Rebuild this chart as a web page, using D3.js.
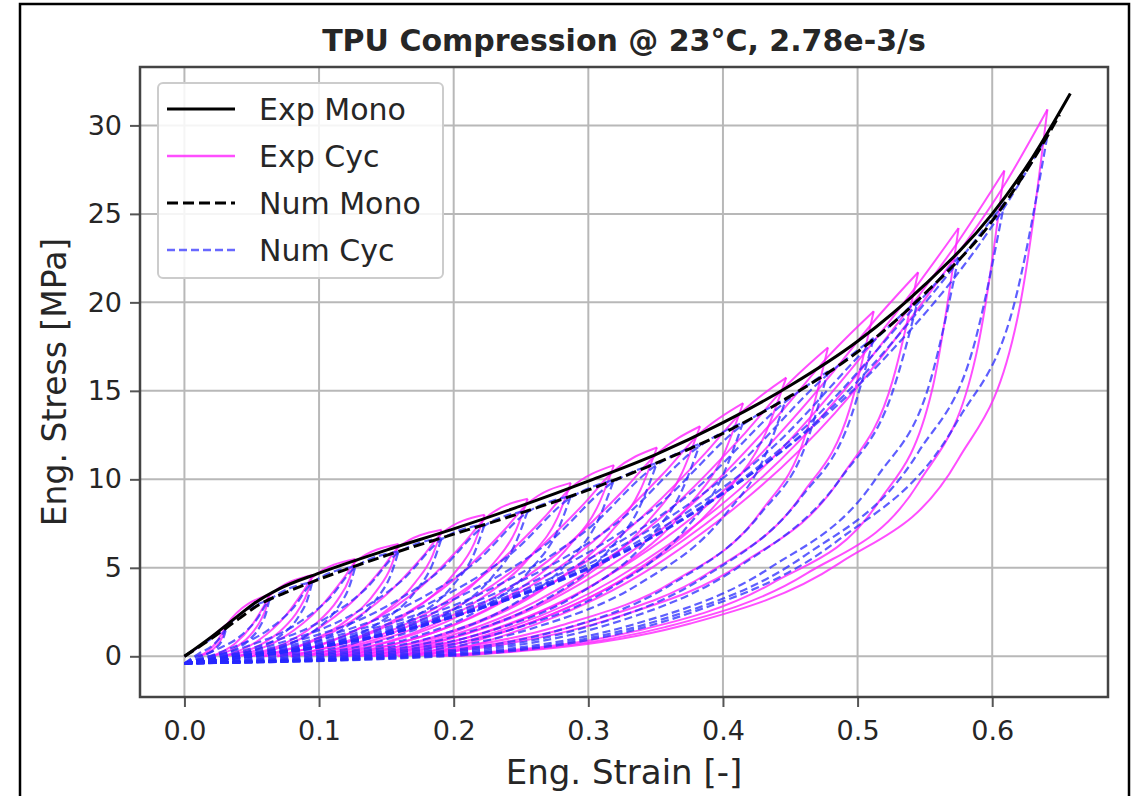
<!DOCTYPE html>
<html>
<head>
<meta charset="utf-8">
<title>TPU Compression</title>
<script src="https://d3js.org/d3.v7.min.js"></script>
<style>
  body { margin: 0; background: #fff; }
  text { font-family: "DejaVu Sans", sans-serif; fill: #262626; }
</style>
</head>
<body>
<script>
// axis ticks
var strainTicks = [0.0, 0.1, 0.2, 0.3, 0.4, 0.5, 0.6];
var stressTicks = [0, 5, 10, 15, 20, 25, 30];

// monotonic curves
var expMonoStrain = [0, 0.02, 0.04, 0.052, 0.07, 0.1, 0.15, 0.2, 0.25, 0.3, 0.35, 0.4, 0.45, 0.5, 0.55, 0.6, 0.63, 0.658];
var expMonoStress = [0, 1.1, 2.3, 3.0, 3.8, 4.7, 6.0, 7.2, 8.5, 9.9, 11.4, 13.2, 15.3, 17.8, 21.0, 25.0, 28.2, 31.8];
var numMonoStrain = [0, 0.02, 0.04, 0.055, 0.075, 0.1, 0.15, 0.2, 0.25, 0.3, 0.35, 0.4, 0.45, 0.5, 0.55, 0.6, 0.63, 0.65];
var numMonoStress = [0, 1.0, 2.1, 2.9, 3.6, 4.35, 5.7, 6.9, 8.1, 9.4, 10.9, 12.6, 14.7, 17.2, 20.5, 24.6, 28.0, 30.6];

// cyclic experiment: first loading, unloading branches, reloading branches (strain, stress)
var expCycFirstLoad = [[0, 0], [0.01, 0.5], [0.02, 1.1], [0.031, 1.8]];
var expCycUnload = [
  [[.010,0],[.0184,.23],[.0237,.58],[.0279,1.04],[.0300,1.44],[.031,1.8]],
  [[.020,0],[.0372,.46],[.048,1.12],[.0566,2.03],[.0609,2.8],[.063,3.5]],
  [[.029,0],[.0554,.6],[.0719,1.47],[.0851,2.67],[.0917,3.68],[.095,4.6]],
  [[.039,0],[.0742,.72],[.0962,1.76],[.1138,3.19],[.1226,4.4],[.127,5.5]],
  [[.049,0],[.093,.83],[.1205,2.03],[.1425,3.68],[.1535,5.08],[.159,6.35]],
  [[.059,0],[.1118,.93],[.1448,2.29],[.1712,4.15],[.1844,5.72],[.191,7.15]],
  [[.069,0],[.1306,1.04],[.1691,2.56],[.1999,4.64],[.2153,6.4],[.223,8.0]],
  [[.079,0],[.1494,1.16],[.1934,2.85],[.2286,5.16],[.2462,7.12],[.255,8.9]],
  [[.089,0],[.1682,1.27],[.2177,3.14],[.2573,5.68],[.2771,7.84],[.287,9.8]],
  [[.099,0],[.187,1.4],[.242,3.46],[.286,6.26],[.308,8.64],[.319,10.8]],
  [[.109,0],[.2058,1.53],[.2663,3.78],[.3147,6.84],[.3389,9.44],[.351,11.8]],
  [[.119,0],[.2246,1.69],[.2906,4.16],[.3434,7.54],[.3698,10.4],[.383,13.0]],
  [[.129,0],[.2434,1.86],[.3149,4.58],[.3721,8.29],[.4007,11.44],[.415,14.3]],
  [[.139,0],[.2622,2.05],[.3392,5.04],[.4008,9.14],[.4316,12.6],[.447,15.75]],
  [[.148,0],[.280,1.75],[.3625,4.19],[.4285,8.2],[.4615,12.56],[.478,17.45]],
  [[.159,0],[.3002,1.95],[.3885,4.68],[.459,9.17],[.4944,14.04],[.512,19.5]],
  [[.169,0],[.3194,2.17],[.4134,5.21],[.4886,10.2],[.5262,15.62],[.545,21.7]],
  [[.178,0],[.3368,1.45],[.436,4.11],[.5155,8.71],[.5552,15.0],[.575,24.2]],
  [[.189,0],[.357,1.65],[.462,4.67],[.546,9.88],[.588,17.02],[.609,27.45]],
  [[.199,0],[.3758,1.85],[.4863,5.25],[.5747,11.12],[.6189,19.16],[.641,30.9]]
];
var expCycReload = [
  [[.010,0],[.0184,.36],[.0247,.9],[.0289,1.44],[.031,1.75],[.063,3.5]],
  [[.020,0],[.0372,.7],[.0501,1.75],[.0587,2.8],[.063,3.4],[.095,4.6]],
  [[.029,0],[.0554,.92],[.0752,2.3],[.0884,3.68],[.095,4.46],[.127,5.5]],
  [[.039,0],[.0742,1.1],[.1006,2.75],[.1182,4.4],[.127,5.34],[.159,6.35]],
  [[.049,0],[.093,1.27],[.126,3.18],[.148,5.08],[.159,6.16],[.191,7.15]],
  [[.059,0],[.1118,1.43],[.1514,3.58],[.1778,5.72],[.191,6.94],[.223,8.0]],
  [[.069,0],[.1306,1.6],[.1768,4.0],[.2076,6.4],[.223,7.76],[.255,8.9]],
  [[.079,0],[.1494,1.78],[.2022,4.45],[.2374,7.12],[.255,8.63],[.287,9.8]],
  [[.089,0],[.1682,1.96],[.2276,4.9],[.2672,7.84],[.287,9.51],[.319,10.8]],
  [[.099,0],[.187,2.16],[.253,5.4],[.297,8.64],[.319,10.48],[.351,11.8]],
  [[.109,0],[.2058,2.36],[.2784,5.9],[.3268,9.44],[.351,11.45],[.383,13.0]],
  [[.119,0],[.2246,2.6],[.3038,6.5],[.3566,10.4],[.383,12.61],[.415,14.3]],
  [[.129,0],[.2434,2.86],[.3292,7.15],[.3864,11.44],[.415,13.87],[.447,15.75]],
  [[.139,0],[.2622,3.15],[.3546,7.88],[.4162,12.6],[.447,15.28],[.478,17.45]],
  [[.148,0],[.280,3.49],[.379,8.73],[.445,13.96],[.478,16.93],[.512,19.5]],
  [[.159,0],[.3002,3.9],[.4061,9.75],[.4767,15.6],[.512,18.92],[.545,21.7]],
  [[.169,0],[.3194,4.34],[.4322,10.85],[.5074,17.36],[.545,21.05],[.575,24.2]],
  [[.178,0],[.3368,4.84],[.4559,12.1],[.5353,19.36],[.575,23.47],[.609,27.45]],
  [[.189,0],[.357,5.49],[.483,13.73],[.567,21.96],[.609,26.63],[.641,30.9]]
];

// cyclic simulation
var numCycFirstLoad = [[0, 0], [0.01, 0.5], [0.02, 1.0], [0.031, 1.6]];
var numCycUnload = [
  [[0,-.4],[.0093,0],[.018,.18],[.0234,.45],[.0277,.86],[.0299,1.25],[.031,1.6]],
  [[0,-.4],[.0189,0],[.0365,.35],[.0476,.89],[.0564,1.72],[.0608,2.48],[.063,3.18]],
  [[0,-.4],[.0285,0],[.0551,.46],[.0717,1.18],[.085,2.27],[.0917,3.28],[.095,4.2]],
  [[0,-.4],[.0381,0],[.0737,.56],[.0959,1.42],[.1137,2.74],[.1226,3.96],[.127,5.08]],
  [[0,-.4],[.0477,0],[.0922,.65],[.12,1.66],[.1423,3.2],[.1534,4.62],[.159,5.92]],
  [[0,-.4],[.0573,0],[.1108,.73],[.1442,1.87],[.171,3.61],[.1843,5.21],[.191,6.68]],
  [[0,-.4],[.0669,0],[.1293,.82],[.1684,2.09],[.1996,4.02],[.2152,5.81],[.223,7.45]],
  [[0,-.4],[.0765,0],[.1479,.91],[.1925,2.3],[.2282,4.44],[.2461,6.42],[.255,8.23]],
  [[0,-.4],[.0861,0],[.1665,1.0],[.2167,2.54],[.2569,4.89],[.277,7.07],[.287,9.06]],
  [[0,-.4],[.0957,0],[.185,1.1],[.2408,2.79],[.2855,5.38],[.3078,7.78],[.319,9.97]],
  [[0,-.4],[.1053,0],[.2036,1.2],[.265,3.06],[.3141,5.9],[.3387,8.53],[.351,10.93]],
  [[0,-.4],[.1149,0],[.2221,1.32],[.2892,3.37],[.3428,6.49],[.3696,9.38],[.383,12.02]],
  [[0,-.4],[.1245,0],[.2407,1.46],[.3133,3.7],[.3714,7.14],[.4005,10.32],[.415,13.23]],
  [[0,-.4],[.1341,0],[.2593,1.6],[.3375,4.08],[.4001,7.87],[.4314,11.36],[.447,14.57]],
  [[0,-.4],[.1434,0],[.2772,1.45],[.3609,4.03],[.4278,8.05],[.4613,11.91],[.478,16.1]],
  [[0,-.4],[.1536,0],[.297,1.62],[.3866,4.5],[.4582,9.0],[.4941,13.31],[.512,17.99]],
  [[0,-.4],[.1635,0],[.3161,1.82],[.4115,5.04],[.4878,10.09],[.5259,14.93],[.545,20.17]],
  [[0,-.4],[.1725,0],[.3335,1.8],[.4341,4.96],[.5146,10.15],[.5549,15.79],[.575,22.55]],
  [[0,-.4],[.1827,0],[.3532,2.05],[.4598,5.64],[.5451,11.53],[.5877,17.93],[.609,25.62]],
  [[0,-.4],[.1923,0],[.3718,2.35],[.484,6.47],[.5737,13.24],[.6186,20.6],[.641,29.43]]
];
var numCycReload = [
  [[0,-.4],[.0109,.16],[.0202,.56],[.0264,1.04],[.031,1.58],[.063,3.18]],
  [[0,-.4],[.0221,.32],[.041,1.11],[.0536,2.07],[.063,3.15],[.095,4.2]],
  [[0,-.4],[.0333,.42],[.0618,1.47],[.0808,2.73],[.095,4.16],[.127,5.08]],
  [[0,-.4],[.0445,.51],[.0826,1.78],[.108,3.3],[.127,5.03],[.159,5.92]],
  [[0,-.4],[.0557,.59],[.1034,2.07],[.1352,3.85],[.159,5.86],[.191,6.68]],
  [[0,-.4],[.0669,.67],[.1242,2.34],[.1624,4.34],[.191,6.61],[.223,7.45]],
  [[0,-.4],[.0781,.75],[.145,2.61],[.1896,4.84],[.223,7.38],[.255,8.23]],
  [[0,-.4],[.0893,.82],[.1658,2.88],[.2168,5.35],[.255,8.15],[.287,9.06]],
  [[0,-.4],[.1005,.91],[.1866,3.17],[.244,5.89],[.287,8.97],[.319,9.97]],
  [[0,-.4],[.1117,1.0],[.2074,3.49],[.2712,6.48],[.319,9.87],[.351,10.93]],
  [[0,-.4],[.1229,1.09],[.2282,3.83],[.2984,7.1],[.351,10.82],[.383,12.02]],
  [[0,-.4],[.134,1.2],[.249,4.21],[.3256,7.81],[.383,11.9],[.415,13.23]],
  [[0,-.4],[.1453,1.32],[.2698,4.63],[.3528,8.6],[.415,13.1],[.447,14.57]],
  [[0,-.4],[.1565,1.46],[.2906,5.1],[.38,9.47],[.447,14.42],[.478,16.1]],
  [[0,-.4],[.1673,1.61],[.3107,5.64],[.4063,10.47],[.478,15.94],[.512,17.99]],
  [[0,-.4],[.1792,1.8],[.3328,6.3],[.4352,11.69],[.512,17.81],[.545,20.17]],
  [[0,-.4],[.1908,2.02],[.3543,7.06],[.4633,13.11],[.545,19.97],[.575,22.55]],
  [[0,-.4],[.2013,2.26],[.3738,7.89],[.4888,14.66],[.575,22.32],[.609,25.62]],
  [[0,-.4],[.2132,2.56],[.3959,8.97],[.5177,16.65],[.609,25.36],[.641,29.43]]
];

var legendLabels = ["Exp Mono", "Exp Cyc", "Num Mono", "Num Cyc"];

var W = 1137, H = 796;
var plot = {left: 140, top: 67, right: 1108, bottom: 697};

var svg = d3.select("body").append("svg")
    .attr("width", W)
    .attr("height", H);

// outer frame
svg.append("rect")
    .attr("x", 20).attr("y", 4)
    .attr("width", 1109).attr("height", 800)
    .attr("fill", "#fff").attr("stroke", "#000").attr("stroke-width", 2.5);

var x = d3.scaleLinear().domain([-0.033, 0.686]).range([plot.left, plot.right]);
var y = d3.scaleLinear().domain([-2.3, 33.3]).range([plot.bottom, plot.top]);

svg.append("clipPath").attr("id", "clip")
  .append("rect")
    .attr("x", plot.left).attr("y", plot.top)
    .attr("width", plot.right - plot.left).attr("height", plot.bottom - plot.top);

// grid
var grid = svg.append("g");
grid.selectAll(".gx").data(strainTicks).enter().append("line")
    .attr("x1", function(d){ return x(d); }).attr("x2", function(d){ return x(d); })
    .attr("y1", plot.top).attr("y2", plot.bottom)
    .attr("stroke", "#b8b8b8").attr("stroke-width", 2);
grid.selectAll(".gy").data(stressTicks).enter().append("line")
    .attr("y1", function(d){ return y(d); }).attr("y2", function(d){ return y(d); })
    .attr("x1", plot.left).attr("x2", plot.right)
    .attr("stroke", "#b8b8b8").attr("stroke-width", 2);

// axes
var xAxis = svg.append("g")
    .attr("transform", "translate(0," + plot.bottom + ")")
    .call(d3.axisBottom(x).tickValues(strainTicks).tickFormat(d3.format(".1f")).tickSize(10).tickPadding(14));
var yAxis = svg.append("g")
    .attr("transform", "translate(" + plot.left + ",0)")
    .call(d3.axisLeft(y).tickValues(stressTicks).tickFormat(d3.format("d")).tickSize(10).tickPadding(8));
[xAxis, yAxis].forEach(function(a){
  a.select(".domain").remove();
  a.selectAll(".tick line").attr("stroke", "#555").attr("stroke-width", 2);
  a.selectAll(".tick text").attr("font-size", 27).attr("font-family", "DejaVu Sans").attr("fill", "#333");
});

var line = d3.line()
    .x(function(d){ return x(d[0]); })
    .y(function(d){ return y(d[1]); })
    .curve(d3.curveMonotoneX);

var lines = svg.append("g").attr("clip-path", "url(#clip)");

var expCycCurves = [expCycFirstLoad].concat(expCycUnload, expCycReload);
lines.selectAll(".expcyc").data(expCycCurves).enter().append("path")
    .attr("d", line)
    .attr("fill", "none").attr("stroke", "#ff22ff").attr("stroke-opacity", 0.8).attr("stroke-width", 2);

var numCycCurves = [numCycFirstLoad].concat(numCycUnload, numCycReload);
lines.selectAll(".numcyc").data(numCycCurves).enter().append("path")
    .attr("d", line)
    .attr("fill", "none").attr("stroke", "#2828ff").attr("stroke-opacity", 0.75).attr("stroke-width", 2.2)
    .attr("stroke-dasharray", "8,4");

var expMono = expMonoStrain.map(function(d, i){ return [d, expMonoStress[i]]; });
var numMono = numMonoStrain.map(function(d, i){ return [d, numMonoStress[i]]; });

lines.append("path").datum(expMono)
    .attr("d", line)
    .attr("fill", "none").attr("stroke", "#000").attr("stroke-width", 3);
lines.append("path").datum(numMono)
    .attr("d", line)
    .attr("fill", "none").attr("stroke", "#000").attr("stroke-width", 3)
    .attr("stroke-dasharray", "11,5");

// plot frame
svg.append("rect")
    .attr("x", plot.left).attr("y", plot.top)
    .attr("width", plot.right - plot.left).attr("height", plot.bottom - plot.top)
    .attr("fill", "none").attr("stroke", "#444").attr("stroke-width", 2.5);

// title and labels
svg.append("text")
    .attr("x", (plot.left + plot.right) / 2).attr("y", 51)
    .attr("text-anchor", "middle")
    .attr("font-size", 30).attr("font-weight", "bold").attr("fill", "#111")
    .text("TPU Compression @ 23°C, 2.78e-3/s");

svg.append("text")
    .attr("x", (plot.left + plot.right) / 2).attr("y", 784)
    .attr("text-anchor", "middle")
    .attr("font-size", 34)
    .text("Eng. Strain [-]");

svg.append("text")
    .attr("transform", "translate(66," + ((plot.top + plot.bottom) / 2) + ") rotate(-90)")
    .attr("text-anchor", "middle")
    .attr("font-size", 33)
    .text("Eng. Stress [MPa]");

// legend
var legend = svg.append("g");
legend.append("rect")
    .attr("x", 158).attr("y", 83)
    .attr("width", 285).attr("height", 195)
    .attr("rx", 5)
    .attr("fill", "#fff").attr("fill-opacity", 0.85)
    .attr("stroke", "#ccc").attr("stroke-width", 2);

var legendStyle = [
  {stroke: "#000", dash: null, width: 3, opacity: 1},
  {stroke: "#ff22ff", dash: null, width: 2.5, opacity: 0.8},
  {stroke: "#000", dash: "11,5", width: 3, opacity: 1},
  {stroke: "#2828ff", dash: "8,4", width: 2.5, opacity: 0.7}
];

legendLabels.forEach(function(lab, i){
  var yy = 109 + i * 47;
  var s = legendStyle[i];
  legend.append("line")
      .attr("x1", 167).attr("x2", 235)
      .attr("y1", yy).attr("y2", yy)
      .attr("stroke", s.stroke).attr("stroke-width", s.width)
      .attr("stroke-opacity", s.opacity)
      .attr("stroke-dasharray", s.dash);
  legend.append("text")
      .attr("x", 259).attr("y", yy + 11)
      .attr("font-size", 30)
      .text(lab);
});
</script>
</body>
</html>
